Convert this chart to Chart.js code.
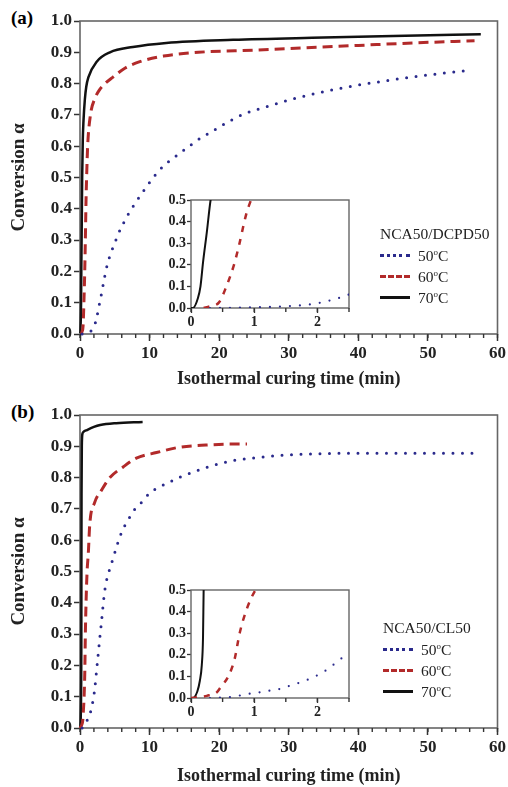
<!DOCTYPE html>
<html lang="en">
<head>
    <meta charset="UTF-8">
    <title>Isothermal curing conversion</title>
    <script src="https://cdn.jsdelivr.net/npm/chart.js"></script>
    <style>
        body {
            margin: 0;
            background: #fff;
            width: 508px;
            height: 787px;
            position: relative;
            overflow: hidden;
            font-family: "Liberation Serif", "DejaVu Serif", serif;
        }

        canvas {
            position: absolute;
        }

        .panel-tag {
            position: absolute;
            font-weight: bold;
            font-size: 19px;
        }

        .legend {
            position: absolute;
            font-size: 15.5px;
            color: #222;
        }

        .legend .head {
            margin-bottom: 2px;
        }

        .legend .row {
            height: 21px;
            display: flex;
            align-items: center;
        }

        .legend .sample {
            width: 30px;
            margin-right: 8px;
        }

        .legend sup {
            font-size: 9px;
            vertical-align: 6px;
        }
    </style>
</head>
<body>
    <div class="panel-tag" style="left: 11px; top: 7px;">(a)</div>
    <div class="panel-tag" style="left: 11px; top: 401px;">(b)</div>

    <canvas id="mainA" width="508" height="393" style="left: 0; top: 0;"></canvas>
    <canvas id="insetA" width="210" height="145" style="left: 150px; top: 188px;"></canvas>
    <canvas id="mainB" width="508" height="393" style="left: 0; top: 394px;"></canvas>
    <canvas id="insetB" width="210" height="145" style="left: 150px; top: 578px;"></canvas>

    <div class="legend" style="left: 380px; top: 225px;">
        <div class="head">NCA50/DCPD50</div>
        <div class="row"><span class="sample" style="border-top: 3px dotted #2a2a8c;"></span><span>50<sup>o</sup>C</span></div>
        <div class="row"><span class="sample" style="border-top: 3px dashed #b22a2a;"></span><span>60<sup>o</sup>C</span></div>
        <div class="row"><span class="sample" style="border-top: 3px solid #111;"></span><span>70<sup>o</sup>C</span></div>
    </div>
    <div class="legend" style="left: 383px; top: 619px;">
        <div class="head">NCA50/CL50</div>
        <div class="row"><span class="sample" style="border-top: 3px dotted #2a2a8c;"></span><span>50<sup>o</sup>C</span></div>
        <div class="row"><span class="sample" style="border-top: 3px dashed #b22a2a;"></span><span>60<sup>o</sup>C</span></div>
        <div class="row"><span class="sample" style="border-top: 3px solid #111;"></span><span>70<sup>o</sup>C</span></div>
    </div>

    <script>
        // (a) NCA50/DCPD50 - time (min) and conversion
        const a50Time = [0.3, 1.0, 1.5, 1.8, 2.0, 2.2, 2.4, 2.7, 3.1, 3.4, 3.8, 4.3, 4.9, 5.5, 6.2, 7.0, 7.7, 8.6, 9.7, 10.7, 11.9, 13.3, 14.5, 16.0, 17.4, 18.8, 20.3, 21.9, 23.8, 27.1, 30.4, 33.8, 38.1, 41.9, 46.7, 51.4, 56.2];
        const a50Conv = [0, 0.003, 0.008, 0.014, 0.022, 0.035, 0.052, 0.086, 0.13, 0.166, 0.21, 0.25, 0.285, 0.32, 0.352, 0.385, 0.41, 0.44, 0.475, 0.505, 0.535, 0.56, 0.58, 0.605, 0.627, 0.645, 0.665, 0.685, 0.705, 0.728, 0.75, 0.768, 0.788, 0.802, 0.818, 0.831, 0.843];
        const a60Time = [0.2, 0.3, 0.44, 0.56, 0.68, 0.76, 0.87, 0.95, 1.1, 1.5, 2.1, 2.8, 3.6, 4.7, 6.5, 8.6, 12, 17, 25, 32, 40, 48, 56.7];
        const a60Conv = [0, 0.008, 0.025, 0.1, 0.2, 0.29, 0.43, 0.5, 0.6, 0.7, 0.75, 0.78, 0.80, 0.82, 0.85, 0.87, 0.888, 0.90, 0.907, 0.914, 0.922, 0.93, 0.937];
        const a70Time = [0, 0.03, 0.11, 0.15, 0.19, 0.25, 0.31, 0.4, 0.5, 0.7, 0.9, 1.2, 2.4, 4.3, 7.6, 12.4, 22, 35, 45, 57.6];
        const a70Conv = [0, 0, 0.046, 0.1, 0.21, 0.35, 0.5, 0.62, 0.68, 0.75, 0.79, 0.82, 0.87, 0.90, 0.917, 0.93, 0.94, 0.947, 0.952, 0.958];

        // (b) NCA50/CL50
        const b50Time = [0.3, 0.64, 0.8, 0.97, 1.13, 1.3, 1.46, 1.59, 1.74, 1.89, 2.03, 2.16, 2.3, 2.41, 2.5, 2.7, 2.9, 3.0, 3.2, 3.4, 3.6, 3.8, 4.3, 4.8, 5.2, 5.8, 6.4, 7.1, 7.9, 8.8, 10, 11.4, 12.9, 14.5, 16.2, 18.1, 20.3, 22.4, 24.7, 29, 33.8, 43, 57];
        const b50Conv = [0, 0.005, 0.013, 0.022, 0.028, 0.037, 0.045, 0.06, 0.073, 0.09, 0.11, 0.133, 0.165, 0.19, 0.21, 0.255, 0.30, 0.32, 0.365, 0.41, 0.445, 0.47, 0.51, 0.545, 0.575, 0.615, 0.645, 0.672, 0.70, 0.72, 0.75, 0.77, 0.786, 0.803, 0.817, 0.832, 0.846, 0.856, 0.862, 0.871, 0.876, 0.878, 0.878];
        const b60Time = [0, 0.25, 0.41, 0.47, 0.59, 0.69, 0.77, 0.88, 1.02, 1.2, 1.4, 2.1, 3.1, 4.3, 6.2, 8.1, 11, 14.3, 18.1, 21.9, 24];
        const b60Conv = [0, 0.01, 0.027, 0.05, 0.1, 0.18, 0.3, 0.41, 0.5, 0.56, 0.65, 0.72, 0.76, 0.80, 0.834, 0.862, 0.88, 0.897, 0.904, 0.907, 0.907];
        const b70Time = [0, 0.03, 0.1, 0.14, 0.17, 0.19, 0.2, 0.22, 0.26, 0.35, 0.5, 1.0, 2.0, 2.9, 5.2, 9];
        const b70Conv = [0, 0, 0.03, 0.08, 0.15, 0.28, 0.5, 0.75, 0.9, 0.94, 0.946, 0.952, 0.962, 0.968, 0.974, 0.978];

        const mainXTicks = [0, 10, 20, 30, 40, 50, 60];
        const mainYTicks = [0, 0.1, 0.2, 0.3, 0.4, 0.5, 0.6, 0.7, 0.8, 0.9, 1.0];
        const insetXTicks = [0, 1, 2];
        const insetYTicks = [0, 0.1, 0.2, 0.3, 0.4, 0.5];

        const serif = '"Liberation Serif", "DejaVu Serif", serif';
        const frameColor = '#666';

        function points(ts, vs) {
            const out = [];
            for (let i = 0; i < ts.length; i++) {
                out.push({ x: ts[i], y: vs[i] });
            }
            return out;
        }

        // box round the plot area plus small minor ticks under the x axis
        function framePlugin(minorStep, width) {
            return {
                id: 'frame',
                beforeDatasetsDraw(chart) {
                    const a = chart.chartArea;
                    const ctx = chart.ctx;
                    ctx.save();
                    ctx.strokeStyle = frameColor;
                    ctx.lineWidth = width;
                    ctx.strokeRect(a.left, a.top, a.right - a.left, a.bottom - a.top);
                    const xs = chart.scales.x;
                    ctx.strokeStyle = '#333';
                    ctx.lineWidth = 1.4;
                    for (let v = xs.min; v <= xs.max + 1e-9; v += minorStep) {
                        const px = xs.getPixelForValue(v);
                        ctx.beginPath();
                        ctx.moveTo(px, a.bottom);
                        ctx.lineTo(px, a.bottom + 4);
                        ctx.stroke();
                    }
                    ctx.restore();
                }
            };
        }

        const whiteBg = {
            id: 'whiteBg',
            beforeDraw(chart) {
                const a = chart.chartArea;
                chart.ctx.save();
                chart.ctx.fillStyle = '#fff';
                chart.ctx.fillRect(a.left, a.top, a.right - a.left, a.bottom - a.top);
                chart.ctx.restore();
            }
        };

        function makeDatasets(s50, s60, s70, inset) {
            return [
                {
                    label: '50°C',
                    data: s50,
                    borderColor: '#2a2a8c',
                    borderWidth: inset ? 2.2 : 3,
                    borderDash: inset ? [0, 10] : [0, 9.5],
                    borderCapStyle: 'round'
                },
                {
                    label: '60°C',
                    data: s60,
                    borderColor: '#b22a2a',
                    borderWidth: inset ? 2.5 : 3,
                    borderDash: inset ? [6, 7] : [10, 6]
                },
                {
                    label: '70°C',
                    data: s70,
                    borderColor: '#111',
                    borderWidth: inset ? 2 : 2.5
                }
            ];
        }

        function mainChart(id, datasets, titleBottomPad) {
            return new Chart(document.getElementById(id), {
                type: 'scatter',
                data: { datasets: datasets },
                options: {
                    responsive: false,
                    animation: false,
                    showLine: true,
                    clip: false,
                    elements: {
                        point: { radius: 0 },
                        line: { cubicInterpolationMode: 'monotone' }
                    },
                    layout: { padding: { top: 21, right: 8, left: 0, bottom: 0 } },
                    plugins: {
                        legend: { display: false },
                        tooltip: { enabled: false }
                    },
                    scales: {
                        x: {
                            type: 'linear',
                            min: 0,
                            max: 60,
                            afterFit: s => { s.height = 59; },
                            afterBuildTicks: s => { s.ticks = mainXTicks.map(v => ({ value: v })); },
                            grid: { drawOnChartArea: false, tickLength: 7, tickColor: '#333', tickWidth: 1.5 },
                            border: { display: false },
                            ticks: {
                                padding: 2,
                                color: '#222',
                                font: { family: serif, size: 17, weight: 'bold' }
                            },
                            title: {
                                display: true,
                                text: 'Isothermal curing time (min)',
                                color: '#222',
                                padding: { top: 0, bottom: titleBottomPad },
                                font: { family: serif, size: 18, weight: 'bold' }
                            }
                        },
                        y: {
                            min: 0,
                            max: 1,
                            afterFit: s => { s.width = 80; },
                            afterBuildTicks: s => { s.ticks = mainYTicks.map(v => ({ value: v })); },
                            grid: { drawOnChartArea: false, tickLength: 6, tickColor: '#333', tickWidth: 1.5 },
                            border: { display: false },
                            ticks: {
                                padding: 2,
                                color: '#222',
                                font: { family: serif, size: 17, weight: 'bold' },
                                callback: v => v.toFixed(1)
                            },
                            title: {
                                display: true,
                                text: 'Conversion α',
                                color: '#222',
                                padding: { top: 8, bottom: 0 },
                                font: { family: serif, size: 19, weight: 'bold' }
                            }
                        }
                    }
                },
                plugins: [framePlugin(2, 1.6)]
            });
        }

        function insetChart(id, datasets) {
            return new Chart(document.getElementById(id), {
                type: 'scatter',
                data: { datasets: datasets },
                options: {
                    responsive: false,
                    animation: false,
                    showLine: true,
                    elements: {
                        point: { radius: 0 },
                        line: { cubicInterpolationMode: 'monotone' }
                    },
                    layout: { padding: { top: 12, right: 11, left: 0, bottom: 0 } },
                    plugins: {
                        legend: { display: false },
                        tooltip: { enabled: false }
                    },
                    scales: {
                        x: {
                            type: 'linear',
                            min: 0,
                            max: 2.5,
                            afterFit: s => { s.height = 25; },
                            afterBuildTicks: s => { s.ticks = insetXTicks.map(v => ({ value: v })); },
                            grid: { drawOnChartArea: false, tickLength: 5, tickColor: '#333', tickWidth: 1.3 },
                            border: { display: false },
                            ticks: {
                                padding: 1,
                                color: '#222',
                                font: { family: serif, size: 14, weight: 'bold' }
                            }
                        },
                        y: {
                            min: 0,
                            max: 0.5,
                            afterFit: s => { s.width = 41; },
                            afterBuildTicks: s => { s.ticks = insetYTicks.map(v => ({ value: v })); },
                            grid: { drawOnChartArea: false, tickLength: 4, tickColor: '#333', tickWidth: 1.3 },
                            border: { display: false },
                            ticks: {
                                padding: 1,
                                color: '#222',
                                font: { family: serif, size: 14, weight: 'bold' },
                                callback: v => v.toFixed(1)
                            }
                        }
                    }
                },
                plugins: [whiteBg, framePlugin(0.5, 1.4)]
            });
        }

        mainChart('mainA', makeDatasets(points(a50Time, a50Conv), points(a60Time, a60Conv), points(a70Time, a70Conv), false), 3);
        mainChart('mainB', makeDatasets(points(b50Time, b50Conv), points(b60Time, b60Conv), points(b70Time, b70Conv), false), 0);
        insetChart('insetA', makeDatasets(points(a50Time, a50Conv), points(a60Time, a60Conv), points(a70Time, a70Conv), true));
        insetChart('insetB', makeDatasets(points(b50Time, b50Conv), points(b60Time, b60Conv), points(b70Time, b70Conv), true));
    </script>
</body>
</html>
